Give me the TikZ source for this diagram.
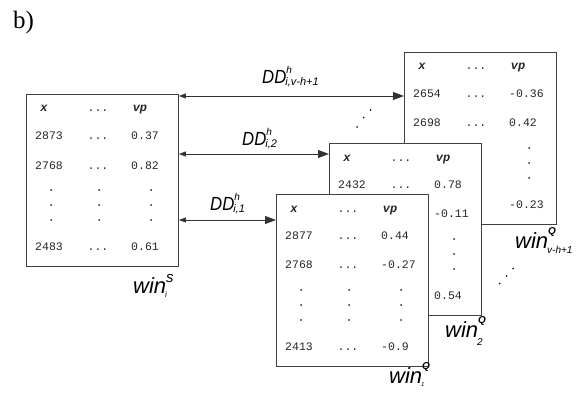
\documentclass[tikz,border=0pt]{standalone}
\usepackage{fontspec}
\setmainfont{Liberation Serif}
\newfontfamily\ddfont[FakeStretch=0.88]{Liberation Sans}
\newfontfamily\sansfam{Liberation Sans}
\newfontfamily\monofam{Liberation Mono}
\usetikzlibrary{arrows.meta}
\tikzset{
  winbox/.style={draw=black!75, line width=0.9pt, fill=white, minimum width=152pt, minimum height=172pt, inner sep=0pt, anchor=north west},
  cell/.style={font=\monofam\fontsize{11.5}{11.5}\selectfont, text=black!85, inner sep=0pt, anchor=base west},
  hdr/.style={font=\monofam\bfseries\itshape\fontsize{12}{12}\selectfont, text=black!85, inner sep=0pt, anchor=base},
  lbl/.style={inner sep=0pt, anchor=base west},
  arr/.style={draw=black!80, line width=0.8pt, {Triangle[length=7pt,width=5pt]}-{Triangle[length=11pt,width=8pt]}},
  dotf/.style={fill=black!85}
}
% a row: name, y, first, last (first empty -> only the last column is drawn)
\newcommand\winrow[4]{%
  \if\relax\detokenize{#3}\relax\else
    \node[cell] (#1a) at (9,#2) {#3};
    \node[cell, anchor=base] (#1b) at (72,#2) {...};
  \fi
  \node[cell] (#1c) at (105,#2) {#4};}
\newcommand\wintab[9]{%
  \node[winbox] (#1) at (#2,#3) {};
  \begin{scope}[shift={(#2,#3)}]
    \node[hdr] (#1-hx) at (18,18) {x};
    \node[cell, anchor=base] (#1-hd) at (72,18) {...};
    \node[hdr] (#1-hv) at (114,18) {vp};
    \winrow{#1-r1}{46}{#4}{#5}
    \winrow{#1-r2}{75}{#6}{#7}
    \if\relax\detokenize{#6}\relax
      \foreach \yy in {96,111,126} {\fill[dotf] (125,\yy) circle (1pt);}
    \else
      \foreach \yy in {96,111,126} {
        \fill[dotf] (25,\yy) circle (1pt);
        \fill[dotf] (73,\yy) circle (1pt);
        \fill[dotf] (125,\yy) circle (1pt);
      }
    \fi
    \winrow{#1-r3}{156}{#8}{#9}
  \end{scope}}
\begin{document}
\begin{tikzpicture}[x=1pt,y=-1pt]
\useasboundingbox (0,0) rectangle (582,396);
\node[lbl, font=\fontsize{25}{25}\selectfont] (title) at (13,29) {b)};

% tables (back to front)
\wintab{q3}{404}{52}{2654}{-0.36}{2698}{0.42}{}{-0.23}
\wintab{q2}{329}{143}{2432}{0.78}{}{-0.11}{}{0.54}
\wintab{q1}{276}{194}{2877}{0.44}{2768}{-0.27}{2413}{-0.9}
\wintab{sb}{26}{94}{2873}{0.37}{2768}{0.82}{2483}{0.61}

% connectors
\draw[arr] (sb.east |- 0,96) -- (q3.west |- 0,96);
\draw[arr] (sb.east |- 0,154) -- (q2.west |- 0,154);
\draw[arr] (sb.east |- 0,220) -- (q1.west |- 0,220);

% connector labels
\node[lbl] (dd3) at (262,84) {\ddfont\itshape\fontsize{19}{19}\selectfont DD\rlap{\raisebox{10pt}{\sansfam\itshape\fontsize{10}{10}\selectfont h}}\kern-1pt\raisebox{-2pt}{\sansfam\itshape\fontsize{11}{11}\selectfont i,v-h+1}};
\node[lbl] (dd2) at (242,146) {\ddfont\itshape\fontsize{19}{19}\selectfont DD\rlap{\raisebox{10pt}{\sansfam\itshape\fontsize{10}{10}\selectfont h}}\kern-1pt\raisebox{-2pt}{\sansfam\itshape\fontsize{11}{11}\selectfont i,2}};
\node[lbl] (dd1) at (210,211) {\ddfont\itshape\fontsize{19}{19}\selectfont DD\rlap{\raisebox{10pt}{\sansfam\itshape\fontsize{10}{10}\selectfont h}}\kern-1pt\raisebox{-2pt}{\sansfam\itshape\fontsize{11}{11}\selectfont i,1}};

% window labels
\node[lbl] (ws) at (133,293) {\sansfam\itshape\fontsize{22}{22}\selectfont win\rlap{\raisebox{11pt}{\fontsize{15}{15}\selectfont s}}\kern-1pt\raisebox{-4pt}{\fontsize{8}{8}\selectfont i}};
\node[lbl] (w1) at (389,383) {\sansfam\itshape\fontsize{22}{22}\selectfont win\rlap{\raisebox{14pt}{\bfseries\fontsize{10}{10}\selectfont Q}}\kern-1pt\raisebox{-3pt}{\fontsize{6}{6}\selectfont 1}};
\node[lbl] (w2) at (445,337) {\sansfam\itshape\fontsize{22}{22}\selectfont win\rlap{\raisebox{14pt}{\bfseries\fontsize{10}{10}\selectfont Q}}\kern-1pt\raisebox{-8pt}{\fontsize{10}{10}\selectfont 2}};
\node[lbl] (w3) at (515,248) {\sansfam\itshape\fontsize{22}{22}\selectfont win\rlap{\raisebox{14pt}{\bfseries\fontsize{10}{10}\selectfont Q}}\kern-1pt\raisebox{-5pt}{\fontsize{10}{10}\selectfont v-h+1}};

% diagonal ellipses
\fill[dotf] (357,127) circle (1pt);
\fill[dotf] (363.5,117.5) circle (1pt);
\fill[dotf] (370.5,110) circle (1pt);
\fill[dotf] (499.5,283.5) circle (1pt);
\fill[dotf] (506.5,276) circle (1pt);
\fill[dotf] (513,268.5) circle (1pt);
\end{tikzpicture}
\end{document}
